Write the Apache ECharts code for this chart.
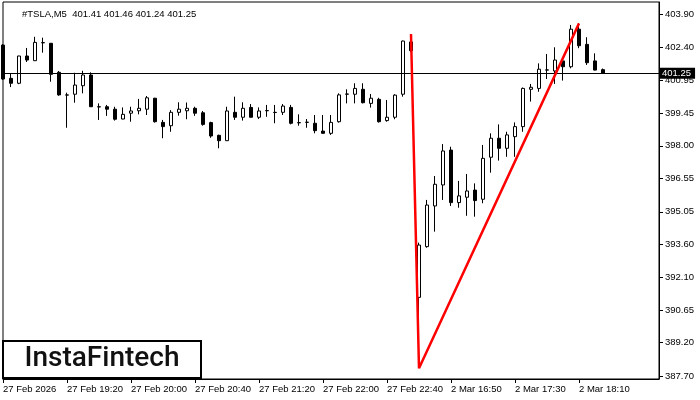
<!DOCTYPE html>
<html>
<head>
<meta charset="utf-8">
<script src="https://cdn.jsdelivr.net/npm/echarts@6/dist/echarts.min.js"></script>
<style>html,body{margin:0;padding:0;background:#fff}#c{width:700px;height:400px}</style>
</head>
<body>
<div id="c"></div>
<script>
// ---- data ----
const symbolTitle = '#TSLA,M5';
const categories = [
 '27 Feb 18:40','27 Feb 18:45','27 Feb 18:50','27 Feb 18:55','27 Feb 19:00','27 Feb 19:05','27 Feb 19:10','27 Feb 19:15',
 '27 Feb 19:20','27 Feb 19:25','27 Feb 19:30','27 Feb 19:35','27 Feb 19:40','27 Feb 19:45','27 Feb 19:50','27 Feb 19:55',
 '27 Feb 20:00','27 Feb 20:05','27 Feb 20:10','27 Feb 20:15','27 Feb 20:20','27 Feb 20:25','27 Feb 20:30','27 Feb 20:35',
 '27 Feb 20:40','27 Feb 20:45','27 Feb 20:50','27 Feb 20:55','27 Feb 21:00','27 Feb 21:05','27 Feb 21:10','27 Feb 21:15',
 '27 Feb 21:20','27 Feb 21:25','27 Feb 21:30','27 Feb 21:35','27 Feb 21:40','27 Feb 21:45','27 Feb 21:50','27 Feb 21:55',
 '27 Feb 22:00','27 Feb 22:05','27 Feb 22:10','27 Feb 22:15','27 Feb 22:20','27 Feb 22:25','27 Feb 22:30','27 Feb 22:35',
 '27 Feb 22:40','27 Feb 22:45','27 Feb 22:50','27 Feb 22:55','2 Mar 16:30','2 Mar 16:35','2 Mar 16:40','2 Mar 16:45',
 '2 Mar 16:50','2 Mar 16:55','2 Mar 17:00','2 Mar 17:05','2 Mar 17:10','2 Mar 17:15','2 Mar 17:20','2 Mar 17:25',
 '2 Mar 17:30','2 Mar 17:35','2 Mar 17:40','2 Mar 17:45','2 Mar 17:50','2 Mar 17:55','2 Mar 18:00','2 Mar 18:05',
 '2 Mar 18:10','2 Mar 18:15','2 Mar 18:20','2 Mar 18:25',
 '2 Mar 18:30','2 Mar 18:35','2 Mar 18:40','2 Mar 18:45','2 Mar 18:50','2 Mar 18:55','2 Mar 19:00'
];
const xTickLabels = ['27 Feb 2026','27 Feb 19:20','27 Feb 20:00','27 Feb 20:40','27 Feb 21:20','27 Feb 22:00','27 Feb 22:40','2 Mar 16:50','2 Mar 17:30','2 Mar 18:10'];
const yTicks = [387.70, 389.20, 390.65, 392.10, 393.60, 395.05, 396.55, 398.00, 399.45, 400.95, 402.40, 403.90];

const open = [402.51, 401.02, 400.80, 402.02, 401.81, 402.62, 402.59, 401.29, 400.28, 400.31,
 400.69, 401.17, 399.75, 399.75, 399.64, 399.20, 399.46, 399.57, 399.64, 400.13,
 399.05, 398.90, 399.50, 399.57, 399.68, 399.48, 399.04, 398.47, 398.23, 399.50,
 399.28, 399.72, 399.28, 399.57, 399.50, 399.50, 399.72, 399.04, 399.05, 399.01,
 398.66, 398.56, 399.08, 400.31, 400.31, 400.53, 399.90, 400.08, 399.13, 399.28,
 400.31, 402.65, 391.22, 393.49, 395.31, 396.25, 397.81, 395.46, 395.70, 396.02,
 395.61, 397.49, 398.34, 397.89, 398.41, 398.86, 400.53, 400.57, 401.39, 401.35,
 401.80, 401.54, 403.22, 402.54, 401.80, 401.41];
const close = [400.99, 400.80, 402.02, 401.84, 402.63, 402.61, 401.20, 400.28, 400.27, 400.72,
 401.17, 399.75, 399.74, 399.64, 399.19, 399.41, 399.56, 399.68, 400.15, 399.08,
 398.86, 399.50, 399.64, 399.68, 399.46, 398.96, 398.44, 398.23, 399.56, 399.28,
 399.68, 399.28, 399.56, 399.58, 399.49, 399.78, 399.01, 399.03, 399.06, 398.68,
 398.56, 399.05, 400.28, 400.32, 400.57, 399.93, 400.13, 399.08, 399.28, 400.27,
 402.69, 402.26, 393.56, 395.35, 396.28, 397.77, 395.46, 395.76, 395.98, 395.55,
 397.44, 398.34, 397.89, 398.49, 398.86, 400.57, 400.62, 401.43, 401.40, 401.84,
 401.54, 403.22, 402.48, 401.72, 401.39, 401.25];
const low = [400.95, 400.63, 400.76, 401.75, 401.80, 402.17, 400.87, 400.24, 398.81, 399.93,
 400.35, 399.74, 399.16, 399.34, 399.13, 399.19, 399.08, 399.41, 399.38, 399.04,
 398.34, 398.63, 399.35, 399.19, 399.34, 398.90, 398.36, 397.89, 398.22, 399.16,
 399.13, 399.27, 399.20, 399.30, 399.01, 399.38, 398.96, 398.90, 398.81, 398.56,
 398.55, 398.49, 399.04, 399.90, 399.90, 399.90, 399.71, 399.04, 399.08, 399.19,
 400.20, 402.20, 388.05, 393.44, 394.16, 395.58, 395.31, 395.23, 394.87, 394.83,
 395.43, 396.80, 397.34, 397.51, 397.51, 398.63, 399.98, 400.42, 400.99, 400.77,
 400.92, 401.47, 402.37, 401.62, 401.38, 401.24];
const high = [402.55, 401.22, 402.03, 402.38, 402.88, 402.84, 402.60, 401.35, 400.38, 401.27,
 401.36, 401.29, 399.90, 399.83, 399.75, 399.72, 399.75, 400.10, 400.23, 400.15,
 399.16, 399.60, 399.95, 399.94, 399.75, 399.56, 399.08, 398.50, 399.75, 400.20,
 399.95, 399.87, 399.72, 399.83, 399.83, 399.87, 399.83, 399.41, 399.20, 399.38,
 399.38, 399.38, 400.35, 400.53, 400.80, 400.80, 400.32, 400.15, 400.05, 400.31,
 402.71, 403.00, 393.67, 395.58, 396.65, 398.08, 397.96, 396.43, 396.74, 396.32,
 398.04, 398.56, 398.96, 398.63, 399.05, 400.61, 400.77, 401.69, 402.11, 402.41,
 401.84, 403.41, 403.48, 402.86, 402.14, 401.46];

// red pattern line (bar index, price)
const patternX = [51, 52, 72];
const patternY = [403.00, 388.05, 403.48];

// ---- build ----
const candleData = open.map((o, i) => [o, close[i], low[i], high[i]]);
const patternData = patternX.map((x, i) => [x, patternY[i]]);
const last = open.length - 1;
const titleText = symbolTitle + '  ' + [open[last], high[last], low[last], close[last]].map(v => v.toFixed(2)).join(' ');
const FONT = 'Liberation Sans';
const isTick = (idx) => idx % 8 === 0 && idx / 8 < xTickLabels.length;

const chart = echarts.init(document.getElementById('c'), null, {renderer: 'canvas'});
chart.setOption({
  animation: false,
  backgroundColor: '#fff',
  title: {
    text: titleText, left: 17, top: 4,
    textStyle: {fontFamily: FONT, fontSize: 9.5, fontWeight: 'normal', color: '#000'}
  },
  grid: {left: 2, right: 41, top: 2, bottom: 21, show: true, borderColor: '#000', borderWidth: 1, backgroundColor: 'transparent'},
  xAxis: {
    type: 'category', data: categories, boundaryGap: false,
    axisLine: {show: true, lineStyle: {color: '#000', width: 1}},
    axisTick: {show: true, length: 4, interval: (idx) => isTick(idx), lineStyle: {color: '#000'}},
    axisLabel: {
      interval: (idx) => isTick(idx),
      formatter: (v, idx) => isTick(idx) ? xTickLabels[idx / 8] : '',
      align: 'left', margin: 5, fontFamily: FONT, fontSize: 9.5, color: '#000', hideOverlap: false
    },
    splitLine: {show: false}
  },
  yAxis: {
    type: 'value', position: 'right', min: 387.566, max: 404.437, scale: true,
    axisLine: {show: true, lineStyle: {color: '#000', width: 1}},
    axisTick: {show: true, length: 4, customValues: yTicks, lineStyle: {color: '#000'}},
    axisLabel: {customValues: yTicks, formatter: (v) => Number(v).toFixed(2), margin: 6, fontFamily: FONT, fontSize: 9.5, color: '#000'},
    splitLine: {show: false}
  },
  series: [
    {
      type: 'candlestick', data: candleData, barWidth: 4,
      itemStyle: {color: '#fff', color0: '#000', borderColor: '#000', borderColor0: '#000', borderColorDoji: '#000', borderWidth: 1},
      markLine: {
        silent: true, symbol: ['none', 'none'], animation: false,
        lineStyle: {color: '#000', width: 1, type: 'solid'},
        label: {
          position: 'end', distance: 1, formatter: close[last].toFixed(2),
          backgroundColor: '#000', color: '#fff', padding: [1, 4, 0, 2],
          fontFamily: FONT, fontSize: 9.5
        },
        data: [{yAxis: close[last]}]
      },
      z: 2
    },
    {
      type: 'line', data: patternData, symbol: 'none', z: 5,
      lineStyle: {color: '#ff0000', width: 2.5}, itemStyle: {color: '#ff0000'}
    }
  ],
  graphic: [
    {type: 'rect', shape: {x: 3, y: 341, width: 198, height: 37}, style: {fill: '#fff', stroke: '#000', lineWidth: 2}, z: 100},
    {type: 'text', x: 102, y: 359, style: {text: 'InstaFintech', font: '500 28px Roboto', fill: '#111', align: 'center', verticalAlign: 'middle'}, z: 101}
  ]
});
</script>
</body>
</html>
